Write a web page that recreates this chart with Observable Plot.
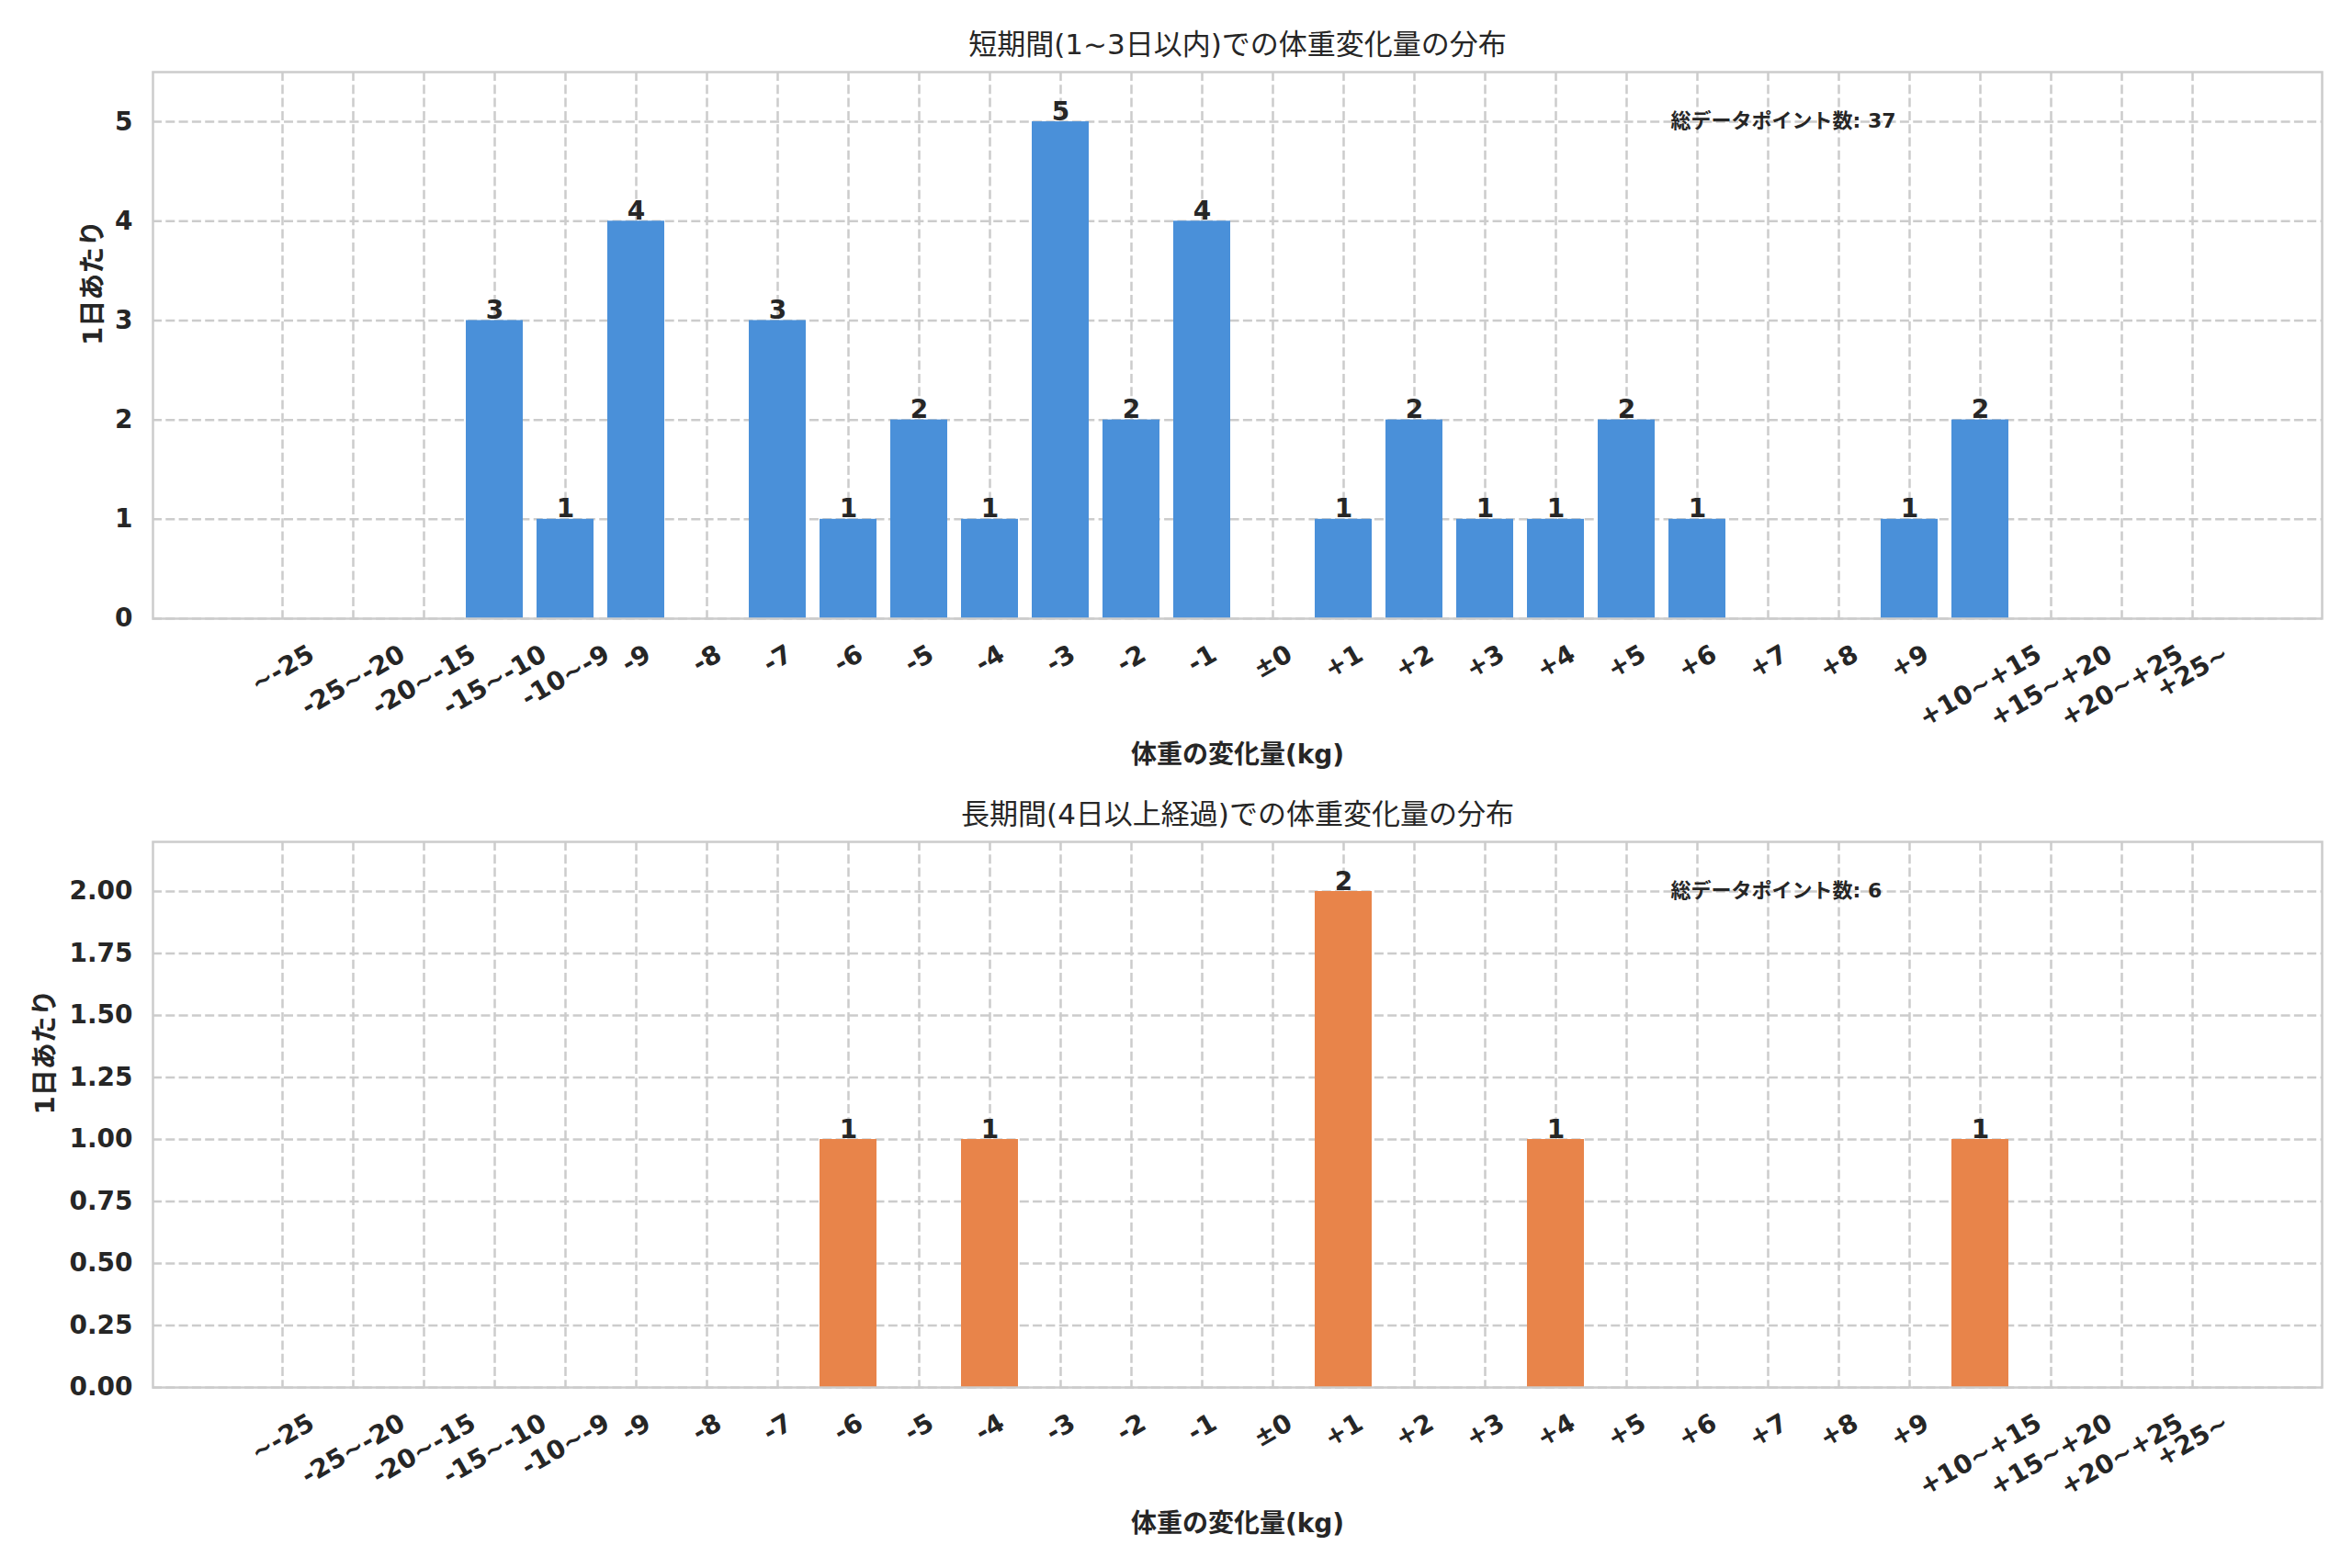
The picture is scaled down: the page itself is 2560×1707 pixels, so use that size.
<!DOCTYPE html>
<html>
<head>
<meta charset="utf-8">
<script src="https://cdn.jsdelivr.net/npm/d3@7"></script>
<script src="https://cdn.jsdelivr.net/npm/@observablehq/plot@0.6"></script>
<style>
  html, body { margin: 0; padding: 0; background: #ffffff; }
  #chart svg { display: block; }
</style>
</head>
<body>
<div id="chart"></div>
<script>
// ---- data ----
const categories = ["~-25","-25~-20","-20~-15","-15~-10","-10~-9","-9","-8","-7","-6","-5","-4","-3","-2","-1","±0","+1","+2","+3","+4","+5","+6","+7","+8","+9","+10~+15","+15~+20","+20~+25","+25~"];
const shortCounts = [0,0,0,3,1,4,0,3,1,2,1,5,2,4,0,1,2,1,1,2,1,0,0,1,2,0,0,0];
const longCounts  = [0,0,0,0,0,0,0,0,1,0,1,0,0,0,0,2,0,0,1,0,0,0,0,0,1,0,0,0];
const shortTitle = "短期間(1~3日以内)での体重変化量の分布";
const longTitle  = "長期間(4日以上経過)での体重変化量の分布";
const xLabel = "体重の変化量(kg)";
const yLabel = "1日あたり";
const totalLabel = "総データポイント数";
const shortTicks = [0,1,2,3,4,5];
const longTicks = [0,0.25,0.5,0.75,1,1.25,1.5,1.75,2];

const FONT = "'DejaVu Sans', 'Noto Sans CJK JP', sans-serif";
const ctx = document.createElement("canvas").getContext("2d");
ctx.font = "bold 28px 'DejaVu Sans'";
const textW = s => ctx.measureText(s).width;

function panel({counts, color, title, yMax, yTicks, tickFmt, height, marginTop, marginBottom, yLabelDx}) {
  const data = categories.map((c, i) => ({c, v: counts[i]}));
  const total = d3.sum(counts);
  const tickLabels = categories.map(c =>
    Plot.text([c], {
      x: d => d, text: d => d, frameAnchor: "bottom",
      dy: 22 + (0.5 * textW(c) + 0.866 * 33) / 2,
      rotate: -30, textAnchor: "middle", lineAnchor: "middle",
      fontSize: 28, fontWeight: "bold", fill: "#262626"
    })
  );
  return Plot.plot({
    width: 2560,
    height,
    marginTop,
    marginBottom,
    marginLeft: 166,
    marginRight: 33,
    style: {fontFamily: FONT, fontSize: "28px", fontWeight: "bold", color: "#262626", background: "#ffffff"},
    x: {type: "band", domain: categories, paddingInner: 0.2, paddingOuter: 1.4, axis: null},
    y: {domain: [0, yMax], axis: null},
    marks: [
      Plot.gridX({stroke: "#cccccc", strokeOpacity: 1, strokeWidth: 2.5, strokeDasharray: "10,4.3"}),
      Plot.gridY(yTicks, {stroke: "#cccccc", strokeOpacity: 1, strokeWidth: 2.5, strokeDasharray: "10,4.3"}),
      Plot.barY(data, {x: "c", y: "v", fill: color}),
      Plot.text(data.filter(d => d.v > 0), {x: "c", y: "v", text: d => String(d.v), lineAnchor: "bottom", dy: -2, fontSize: 28, fontWeight: "bold", fill: "#262626"}),
      Plot.axisY(yTicks, {tickSize: 0, tickPadding: 22, tickFormat: tickFmt, label: null, fontSize: 28, fontWeight: "bold", fill: "#262626"}),
      ...tickLabels,
      Plot.text([`${totalLabel}: ${total}`], {text: d => d, frameAnchor: "top-left", dx: 1652, dy: 53, textAnchor: "start", lineAnchor: "middle", fontSize: 22, fontWeight: "bold", fill: "#262626"}),
      Plot.text([title], {text: d => d, frameAnchor: "top", dy: -29, lineAnchor: "middle", fontSize: 31, fontWeight: "normal", fill: "#262626"}),
      Plot.text([xLabel], {text: d => d, frameAnchor: "bottom", dy: 149, lineAnchor: "middle", fontSize: 28, fontWeight: "bold", fill: "#262626"}),
      Plot.text([yLabel], {text: d => d, frameAnchor: "left", dx: yLabelDx, rotate: -90, lineAnchor: "middle", fontSize: 29, fontWeight: "bold", fill: "#262626"}),
      Plot.frame({stroke: "#cccccc", strokeWidth: 2.5})
    ]
  });
}

const chart = document.getElementById("chart");
chart.append(panel({
  counts: shortCounts, color: "#4a90d9", title: shortTitle, yMax: 5.5,
  yTicks: shortTicks, tickFmt: d3.format("d"),
  height: 853, marginTop: 78, marginBottom: 180, yLabelDx: -65
}));
chart.append(panel({
  counts: longCounts, color: "#e8844a", title: longTitle, yMax: 2.2,
  yTicks: longTicks, tickFmt: d3.format(".2f"),
  height: 854, marginTop: 63, marginBottom: 197, yLabelDx: -117
}));
</script>
</body>
</html>
